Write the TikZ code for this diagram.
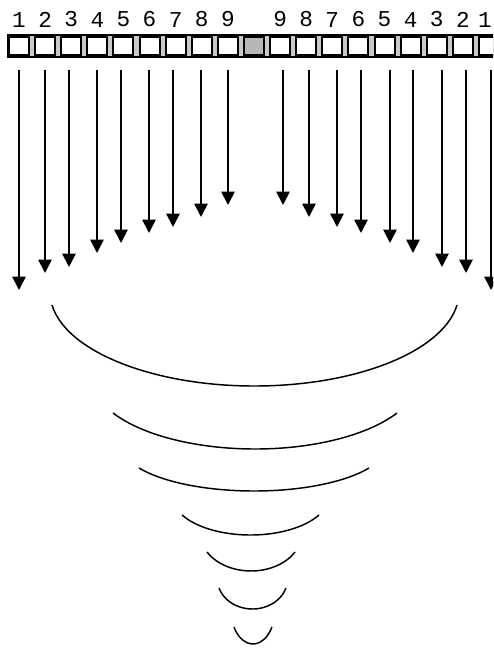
\documentclass[tikz,border=0pt]{standalone}
\usepackage{fontspec}
\newfontfamily\digitfont{Liberation Mono}
\usepackage{tikz}
\usetikzlibrary{arrows.meta,positioning}
\usepackage{xcolor}
\definecolor{sepgray}{RGB}{200,200,200}
\definecolor{midgray}{RGB}{182,182,182}

\begin{document}
\begin{tikzpicture}[x=0.75pt, y=-0.75pt,
  node distance=3.08pt,
  cell/.style={draw=black, fill=white, line width=1.5pt, inner sep=0pt,
               minimum width=15pt, minimum height=13.5pt},
  midcell/.style={cell, fill=midgray},
  num/.style={inner sep=0pt, font=\digitfont\fontsize{17}{17}\selectfont},
  arrow/.style={-{Triangle[width=10pt,length=10pt]}, line width=1.3pt},
  ring/.style={line width=1.1pt}]

\useasboundingbox (0,0) rectangle (493,648);
\clip (0,0) rectangle (493,648);

% the strip
\fill[black] (7,34) rectangle (500,58);
\fill[sepgray] (10,36) rectangle (500,56);

\node[cell] (c1) at (19,46) {};
\node[cell, right=of c1] (c2) {};
\node[cell, right=of c2] (c3) {};
\node[cell, right=of c3] (c4) {};
\node[cell, right=of c4] (c5) {};
\node[cell, right=of c5] (c6) {};
\node[cell, right=of c6] (c7) {};
\node[cell, right=of c7] (c8) {};
\node[cell, right=of c8] (c9) {};
\node[midcell, right=of c9] (c10) {};
\node[cell, right=of c10] (c11) {};
\node[cell, right=of c11] (c12) {};
\node[cell, right=of c12] (c13) {};
\node[cell, right=of c13] (c14) {};
\node[cell, right=of c14] (c15) {};
\node[cell, right=of c15] (c16) {};
\node[cell, right=of c16] (c17) {};
\node[cell, right=of c17] (c18) {};
\node[cell, right=of c18] (c19) {};

% numbers
\node[num, above=6.5pt of c1] (l1) {1};
\node[num, above=6.5pt of c2] (l2) {2};
\node[num, above=6.5pt of c3] (l3) {3};
\node[num, above=6.5pt of c4] (l4) {4};
\node[num, above=6.5pt of c5] (l5) {5};
\node[num, above=6.5pt of c6] (l6) {6};
\node[num, above=6.5pt of c7] (l7) {7};
\node[num, above=6.5pt of c8] (l8) {8};
\node[num, above=6.5pt of c9] (l9) {9};
\node[num, above=6.5pt of c11] (r9) {9};
\node[num, above=6.5pt of c12] (r8) {8};
\node[num, above=6.5pt of c13] (r7) {7};
\node[num, above=6.5pt of c14] (r6) {6};
\node[num, above=6.5pt of c15] (r5) {5};
\node[num, above=6.5pt of c16] (r4) {4};
\node[num, above=6.5pt of c17] (r3) {3};
\node[num, above=6.5pt of c18] (r2) {2};
\node[num, above=6.5pt of c19, xshift=-3pt] (r1) {1};

% arrows
\coordinate (top) at (0,70);
\coordinate (tl1) at (19,290);
\coordinate (tl2) at (45,273);
\coordinate (tl3) at (69,267);
\coordinate (tl4) at (97,253);
\coordinate (tl5) at (121,243);
\coordinate (tl6) at (149,233);
\coordinate (tl7) at (173,227);
\coordinate (tl8) at (201,217);
\coordinate (tl9) at (228,205);
\coordinate (tr9) at (283,205);
\coordinate (tr8) at (309,217);
\coordinate (tr7) at (337,227);
\coordinate (tr6) at (361,233);
\coordinate (tr5) at (390,243);
\coordinate (tr4) at (413,253);
\coordinate (tr3) at (442,267);
\coordinate (tr2) at (466,273);
\coordinate (tr1) at (491,290);

\draw[arrow] (tl1 |- top) -- (tl1);
\draw[arrow] (tl2 |- top) -- (tl2);
\draw[arrow] (tl3 |- top) -- (tl3);
\draw[arrow] (tl4 |- top) -- (tl4);
\draw[arrow] (tl5 |- top) -- (tl5);
\draw[arrow] (tl6 |- top) -- (tl6);
\draw[arrow] (tl7 |- top) -- (tl7);
\draw[arrow] (tl8 |- top) -- (tl8);
\draw[arrow] (tl9 |- top) -- (tl9);
\draw[arrow] (tr9 |- top) -- (tr9);
\draw[arrow] (tr8 |- top) -- (tr8);
\draw[arrow] (tr7 |- top) -- (tr7);
\draw[arrow] (tr6 |- top) -- (tr6);
\draw[arrow] (tr5 |- top) -- (tr5);
\draw[arrow] (tr4 |- top) -- (tr4);
\draw[arrow] (tr3 |- top) -- (tr3);
\draw[arrow] (tr2 |- top) -- (tr2);
\draw[arrow] (tr1 |- top) -- (tr1);

% funnel
\draw[ring] (52,305) arc[start angle=172, end angle=8, x radius=204.5, y radius=94.1];
\draw[ring] (113,413) arc[start angle=150, end angle=30, x radius=164, y radius=72];
\draw[ring] (139,468) arc[start angle=150, end angle=30, x radius=132.8, y radius=46];
\draw[ring] (182,515) arc[start angle=150, end angle=30, x radius=79.1, y radius=40];
\draw[ring] (207,552) arc[start angle=150, end angle=30, x radius=50.8, y radius=38];
\draw[ring] (219,588) arc[start angle=162, end angle=18, x radius=35.2, y radius=30.4];
\draw[ring] (234,627) arc[start angle=150, end angle=30, x radius=21.9, y radius=34];
\end{tikzpicture}
\end{document}
